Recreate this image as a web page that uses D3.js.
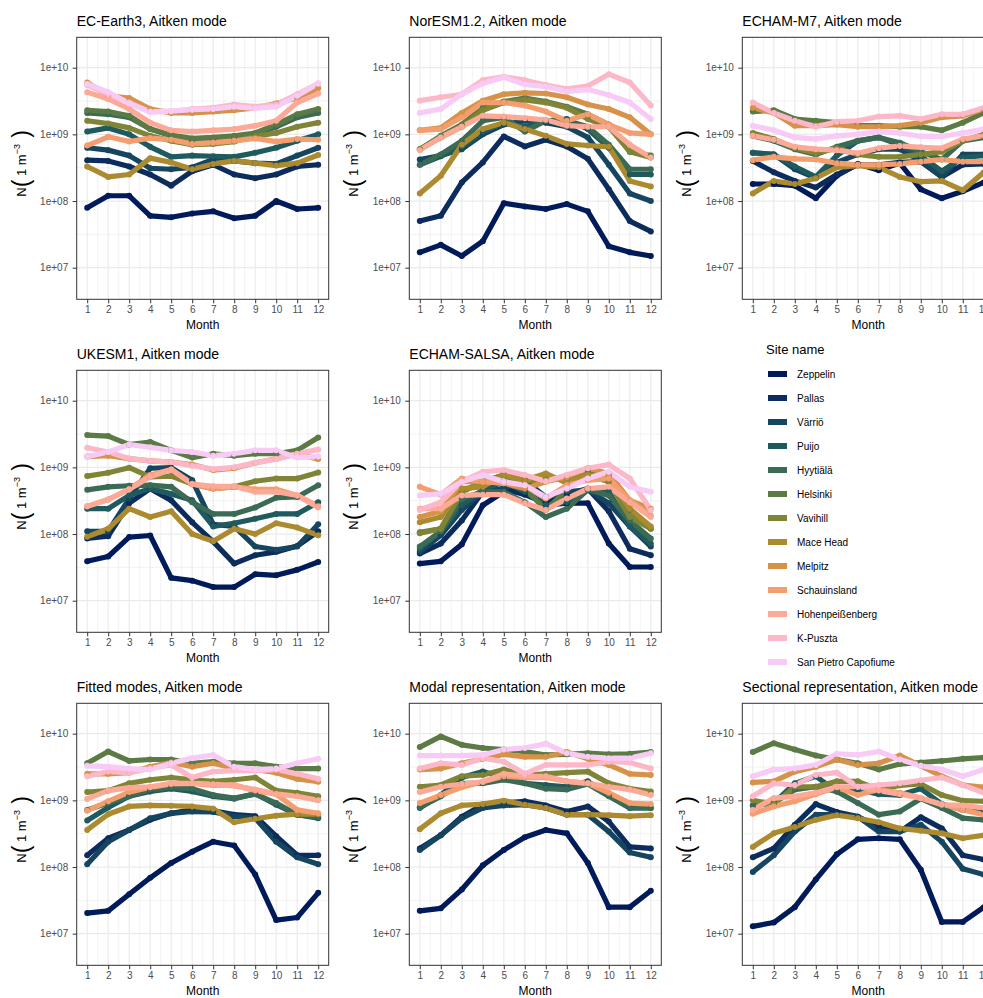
<!DOCTYPE html>
<html>
<head>
<meta charset="utf-8">
<script src="https://cdn.jsdelivr.net/npm/d3@7"></script>
<style>
  body { margin: 0; background: #fff; }
  text { font-family: "Liberation Sans", Arial, sans-serif; }
</style>
</head>
<body>
<svg id="chart" width="983" height="998"></svg>
<script>
const months = [1, 2, 3, 4, 5, 6, 7, 8, 9, 10, 11, 12];
const sites = ["Zeppelin", "Pallas", "Värriö", "Puijo", "Hyytiälä", "Helsinki", "Vavihill",
  "Mace Head", "Melpitz", "Schauinsland", "Hohenpeißenberg", "K-Puszta", "San Pietro Capofiume"];
const siteColors = ["#011a5a", "#0c2c5d", "#15455f", "#1f5a5e", "#3b6b55", "#5b7a45", "#808436",
  "#ac8a2f", "#d7924a", "#f49e6f", "#fca997", "#fcb8c8", "#f8cbf6"];
const yTicks = [1e7, 1e8, 1e9, 1e10];

// rows follow the order of `sites`
const ecEarth3 = [
  [7.9e7, 1.2e8, 1.2e8, 6e7, 5.7e7, 6.5e7, 7e7, 5.5e7, 6e7, 1e8, 7.6e7, 7.9e7],
  [4.1e8, 4e8, 3.3e8, 2.5e8, 1.7e8, 2.8e8, 3.5e8, 2.5e8, 2.2e8, 2.5e8, 3.3e8, 3.5e8],
  [6.3e8, 5.8e8, 4.8e8, 3.1e8, 3e8, 3.2e8, 4.2e8, 4e8, 3.7e8, 3.6e8, 4.8e8, 6.3e8],
  [1.1e9, 1.25e9, 1e9, 6.5e8, 4.6e8, 4.8e8, 4.7e8, 4.6e8, 5.3e8, 6.3e8, 8e8, 1e9],
  [2.1e9, 2e9, 1.8e9, 1.2e9, 9.5e8, 8e8, 8.5e8, 9e8, 9.8e8, 1.3e9, 1.8e9, 2.1e9],
  [2.3e9, 2.2e9, 1.9e9, 1.2e9, 9.8e8, 8.7e8, 9e8, 9.5e8, 1.05e9, 1.4e9, 2e9, 2.4e9],
  [1.6e9, 1.45e9, 1.25e9, 9.5e8, 8e8, 7e8, 7.2e8, 7.8e8, 9.3e8, 1.05e9, 1.3e9, 1.5e9],
  [3.3e8, 2.3e8, 2.5e8, 4.4e8, 3.8e8, 3e8, 3.6e8, 4e8, 3.7e8, 3.4e8, 3.7e8, 4.9e8],
  [6e9, 3.8e9, 3.5e9, 2.4e9, 2.1e9, 2.1e9, 2.2e9, 2.3e9, 2.5e9, 2.9e9, 3.5e9, 4.9e9],
  [6.8e8, 9.2e8, 7.8e8, 8.8e8, 8.3e8, 7.2e8, 7.5e8, 8e8, 8.7e8, 7.8e8, 8.5e8, 8.3e8],
  [4.3e9, 3.4e9, 2.4e9, 1.5e9, 1.15e9, 1.1e9, 1.15e9, 1.2e9, 1.35e9, 1.6e9, 3e9, 4.1e9],
  [5.5e9, 4e9, 3e9, 2.2e9, 2.2e9, 2.4e9, 2.5e9, 2.8e9, 2.6e9, 2.8e9, 4e9, 5.8e9],
  [5.7e9, 4.3e9, 2.9e9, 2.15e9, 2.25e9, 2.35e9, 2.4e9, 2.6e9, 2.45e9, 2.6e9, 3.8e9, 5.8e9]
];
const norEsm = [
  [1.7e7, 2.2e7, 1.5e7, 2.5e7, 9.3e7, 8.3e7, 7.6e7, 9e7, 7e7, 2.1e7, 1.7e7, 1.5e7],
  [5e7, 6e7, 1.9e8, 3.8e8, 9.3e8, 6.6e8, 8.3e8, 6.6e8, 4.3e8, 1.5e8, 5e7, 3.5e7],
  [4.2e8, 4.8e8, 6e8, 1e9, 1.4e9, 1.6e9, 1.5e9, 1.3e9, 9e8, 3.5e8, 1.3e8, 1e8],
  [3.5e8, 4.7e8, 6.5e8, 1.1e9, 1.5e9, 1.3e9, 1.6e9, 1.7e9, 1.2e9, 6.3e8, 2.5e8, 2.5e8],
  [3.5e8, 5e8, 8e8, 1.6e9, 1.8e9, 1.1e9, 1.6e9, 1.6e9, 1.3e9, 7e8, 3e8, 3e8],
  [6e8, 9.5e8, 1.4e9, 2.5e9, 3.1e9, 3.5e9, 3.1e9, 2.6e9, 2e9, 1.4e9, 5.5e8, 4.8e8],
  [6e8, 9e8, 1.3e9, 2.3e9, 3e9, 3.3e9, 3e9, 2.5e9, 1.7e9, 1.3e9, 5.5e8, 4.5e8],
  [1.3e8, 2.4e8, 7e8, 1.2e9, 1.5e9, 1.2e9, 9.5e8, 7.2e8, 6.8e8, 6.5e8, 2e8, 1.65e8],
  [1.15e9, 1.25e9, 2.1e9, 3.2e9, 4e9, 4.2e9, 4.1e9, 3.6e9, 2.8e9, 2.4e9, 1.8e9, 1e9],
  [1.15e9, 1.2e9, 1.8e9, 3e9, 3e9, 2.7e9, 2.2e9, 1.6e9, 2e9, 1.4e9, 1.05e9, 1e9],
  [5.8e8, 9e8, 1.3e9, 1.9e9, 1.85e9, 1.75e9, 1.65e9, 1.35e9, 1.3e9, 1.3e9, 7e8, 4.5e8],
  [3.2e9, 3.6e9, 4e9, 6.5e9, 7.3e9, 6.5e9, 5.5e9, 4.8e9, 5.3e9, 8e9, 6e9, 2.7e9],
  [2.1e9, 2.4e9, 4e9, 5.8e9, 7.2e9, 5.6e9, 5.2e9, 4.4e9, 4.7e9, 3.9e9, 3e9, 1.7e9]
];
const echamM7 = [
  [1.8e8, 1.8e8, 1.7e8, 1.1e8, 2.4e8, 3.6e8, 2.9e8, 3.7e8, 1.5e8, 1.1e8, 1.4e8, 1.9e8],
  [4e8, 2.7e8, 2e8, 1.6e8, 2.5e8, 3.5e8, 3.5e8, 3.8e8, 3.9e8, 2.3e8, 3.5e8, 3.6e8],
  [5.3e8, 5e8, 3e8, 2.2e8, 3.8e8, 5e8, 6e8, 6e8, 4e8, 2.3e8, 5e8, 5e8],
  [5.3e8, 5e8, 3.3e8, 2.3e8, 4.8e8, 8e8, 9e8, 7e8, 4.7e8, 2.8e8, 4.5e8, 4.8e8],
  [9.5e8, 8e8, 6e8, 5e8, 6.5e8, 8e8, 9e8, 7.5e8, 5.5e8, 4.2e8, 8e8, 9e8],
  [2.2e9, 2.3e9, 1.7e9, 1.6e9, 1.5e9, 1.35e9, 1.35e9, 1.3e9, 1.3e9, 1.15e9, 1.5e9, 2.1e9],
  [1.05e9, 8.5e8, 6.2e8, 5.2e8, 6.2e8, 5e8, 4.6e8, 4.6e8, 5e8, 5.5e8, 8e8, 1e9],
  [1.3e8, 2e8, 1.8e8, 2.2e8, 3.2e8, 3.4e8, 3.2e8, 2.3e8, 1.95e8, 2e8, 1.45e8, 2.7e8],
  [2.5e9, 2.1e9, 1.35e9, 1.35e9, 1.4e9, 1.3e9, 1.3e9, 1.35e9, 1.5e9, 1.8e9, 1.9e9, 2.4e9],
  [4.1e8, 4.6e8, 4.3e8, 4.2e8, 3.7e8, 3.5e8, 3.5e8, 3.6e8, 3.9e8, 4.2e8, 3.9e8, 3.9e8],
  [9.5e8, 8.3e8, 6.5e8, 6e8, 5.8e8, 5.2e8, 6.2e8, 6.7e8, 6.4e8, 6.2e8, 8.5e8, 9.5e8],
  [3e9, 2.1e9, 1.6e9, 1.3e9, 1.55e9, 1.6e9, 1.85e9, 1.9e9, 1.7e9, 2e9, 2e9, 2.5e9],
  [1.35e9, 1.15e9, 9e8, 8.5e8, 9.5e8, 1e9, 1.1e9, 1.05e9, 9.3e8, 9.3e8, 1.05e9, 1.2e9]
];
const ukesm1 = [
  [3.9e7, 4.6e7, 9e7, 9.5e7, 2.2e7, 2e7, 1.6e7, 1.6e7, 2.5e7, 2.4e7, 2.9e7, 3.8e7],
  [8.6e7, 9.3e7, 2.9e8, 4.8e8, 3.2e8, 1.5e8, 7.7e7, 3.6e7, 4.8e7, 5.4e7, 6.6e7, 1.1e8],
  [1.1e8, 1.1e8, 3.4e8, 9.7e8, 9.9e8, 6.4e8, 1.4e8, 1.3e8, 6.5e7, 5.8e7, 6.5e7, 1.4e8],
  [2.4e8, 2.4e8, 3.8e8, 4.8e8, 4e8, 3.2e8, 1.3e8, 1.45e8, 1.7e8, 2e8, 2e8, 3e8],
  [4.6e8, 5.1e8, 5.3e8, 5.4e8, 5.1e8, 3e8, 2e8, 2e8, 2.5e8, 3.5e8, 3.6e8, 5.4e8],
  [3.05e9, 2.95e9, 2.2e9, 2.4e9, 1.8e9, 1.4e9, 1.6e9, 1.5e9, 1.6e9, 1.6e9, 1.8e9, 2.8e9],
  [7.4e8, 8.3e8, 9.9e8, 7.2e8, 7.4e8, 5.6e8, 4.8e8, 5.1e8, 6.2e8, 6.8e8, 6.8e8, 8.4e8],
  [9.1e7, 1.2e8, 2.4e8, 1.8e8, 2.2e8, 1e8, 7.8e7, 1.2e8, 1e8, 1.45e8, 1.25e8, 9.6e7],
  [1.45e9, 1.5e9, 1.35e9, 1.25e9, 1.2e9, 1.1e9, 9.1e8, 9.7e8, 1.17e9, 1.35e9, 1.6e9, 1.33e9],
  [2.6e8, 3.3e8, 4.7e8, 7.7e8, 9.3e8, 5.7e8, 4.8e8, 5.1e8, 4.7e8, 4.7e8, 3.8e8, 2.6e8],
  [2.6e8, 3.3e8, 4.7e8, 7.2e8, 9.3e8, 5.6e8, 5.2e8, 5.2e8, 4.3e8, 4.3e8, 3.8e8, 2.5e8],
  [1.97e9, 1.7e9, 1.36e9, 1.25e9, 1.2e9, 1.06e9, 9.4e8, 1e9, 1.17e9, 1.33e9, 1.6e9, 1.86e9],
  [1.45e9, 1.7e9, 2.2e9, 2e9, 1.8e9, 1.7e9, 1.5e9, 1.6e9, 1.8e9, 1.8e9, 1.4e9, 1.45e9]
];
const echamSalsa = [
  [3.6e7, 3.9e7, 7e7, 2.7e8, 4.3e8, 4.3e8, 2.7e8, 2.9e8, 2.9e8, 7.2e7, 3.2e7, 3.2e7],
  [5.1e7, 7.2e7, 1.6e8, 4.3e8, 4.8e8, 3.9e8, 2.9e8, 3.9e8, 4.8e8, 2.2e8, 6e7, 4.8e7],
  [5.4e7, 9.6e7, 2.3e8, 4.3e8, 4.8e8, 6.4e8, 3.6e8, 4.3e8, 4.6e8, 2.9e8, 1.3e8, 6.5e7],
  [6e7, 1.1e8, 2.7e8, 4.6e8, 6.1e8, 4.3e8, 2.7e8, 3e8, 4.7e8, 4.3e8, 1.3e8, 7.2e7],
  [6.5e7, 1.1e8, 3.4e8, 4.3e8, 4.3e8, 3e8, 1.8e8, 2.4e8, 4.6e8, 3.8e8, 1.6e8, 8.6e7],
  [1.06e8, 1.2e8, 4.3e8, 6.1e8, 7.7e8, 4.8e8, 2.3e8, 4.6e8, 8.8e8, 7.5e8, 2.3e8, 1.2e8],
  [1.03e8, 1.2e8, 4.3e8, 6.1e8, 7.7e8, 6.1e8, 6.7e8, 6.8e8, 7.7e8, 6.1e8, 1.8e8, 1.2e8],
  [1.5e8, 1.8e8, 4.8e8, 5.1e8, 7.7e8, 6.4e8, 8.1e8, 5.8e8, 7.7e8, 7e8, 2.4e8, 1.3e8],
  [1.8e8, 2.2e8, 6.1e8, 6.1e8, 5.8e8, 4.8e8, 6.1e8, 7.2e8, 9.7e8, 8.1e8, 3.2e8, 2.4e8],
  [5.1e8, 3.9e8, 6.8e8, 6.1e8, 5.8e8, 5.4e8, 3.4e8, 5.4e8, 6.4e8, 6.8e8, 3.2e8, 1.9e8],
  [2.4e8, 2.4e8, 3.8e8, 3.9e8, 3.9e8, 2.9e8, 2.3e8, 3.4e8, 4.8e8, 5.1e8, 3e8, 1.8e8],
  [2.3e8, 3e8, 6.1e8, 8.6e8, 9.1e8, 7.7e8, 6.2e8, 7.7e8, 9.7e8, 1.1e9, 6.8e8, 2.3e8],
  [3.8e8, 4e8, 6.1e8, 7.7e8, 6.1e8, 5.4e8, 3.6e8, 4.8e8, 6.8e8, 8.6e8, 5.1e8, 4.3e8]
];
const fittedModes = [
  [2.04e7, 2.2e7, 3.9e7, 6.9e7, 1.15e8, 1.7e8, 2.4e8, 2.1e8, 7.7e7, 1.6e7, 1.75e7, 4.1e7],
  [1.5e8, 2.7e8, 3.6e8, 5.1e8, 6.4e8, 7.2e8, 7e8, 6.1e8, 5.8e8, 2.9e8, 1.5e8, 1.5e8],
  [1.1e8, 2.4e8, 3.6e8, 5.4e8, 6.4e8, 6.8e8, 6.7e8, 5.8e8, 5.4e8, 2.4e8, 1.4e8, 1.1e8],
  [5e8, 7.8e8, 1.15e9, 1.36e9, 1.5e9, 1.36e9, 1.15e9, 1.06e9, 1.26e9, 8.6e8, 6.1e8, 5.4e8],
  [7.2e8, 9.1e8, 1.15e9, 1.45e9, 1.57e9, 1.5e9, 1.2e9, 1.08e9, 1.24e9, 9.1e8, 6.1e8, 5.6e8],
  [3.6e9, 5.4e9, 3.9e9, 4.1e9, 4.1e9, 3.6e9, 3.8e9, 3.6e9, 3.6e9, 3.2e9, 3e9, 3e9],
  [1.33e9, 1.4e9, 1.8e9, 2.04e9, 2.2e9, 2.04e9, 1.93e9, 2.04e9, 2.2e9, 1.4e9, 1.3e9, 1.15e9],
  [3.6e8, 6.2e8, 8.1e8, 8.4e8, 8.3e8, 8.1e8, 7.5e8, 4.7e8, 5.3e8, 5.9e8, 6.2e8, 6.2e8],
  [2.5e9, 2.5e9, 2.6e9, 3.2e9, 3.7e9, 3.2e9, 3.6e9, 3e9, 2.9e9, 2.6e9, 2.1e9, 1.9e9],
  [7e8, 9.7e8, 1.33e9, 1.57e9, 1.76e9, 1.8e9, 1.68e9, 1.7e9, 1.4e9, 1.24e9, 7.2e8, 6.4e8],
  [1.05e9, 1.4e9, 1.55e9, 1.6e9, 1.8e9, 1.8e9, 1.75e9, 1.65e9, 1.45e9, 1.25e9, 1.15e9, 1e9],
  [2.3e9, 2.7e9, 2.6e9, 3e9, 3.4e9, 2.2e9, 2.7e9, 2.8e9, 2.8e9, 2.9e9, 2.5e9, 2.1e9],
  [3.3e9, 3.2e9, 3e9, 2.9e9, 3.6e9, 4.3e9, 4.8e9, 3.2e9, 2.9e9, 3e9, 3.6e9, 4.2e9]
];
const modalRepr = [
  [2.2e7, 2.4e7, 4.6e7, 1.06e8, 1.8e8, 2.8e8, 3.6e8, 3.2e8, 1.15e8, 2.5e7, 2.5e7, 4.4e7],
  [1.9e8, 3e8, 5.7e8, 8.6e8, 9.1e8, 9.7e8, 8.4e8, 6.8e8, 8.1e8, 4.8e8, 2e8, 1.9e8],
  [1.8e8, 3e8, 5.4e8, 7.7e8, 8.4e8, 8.6e8, 7.7e8, 6.1e8, 6.1e8, 3.4e8, 1.65e8, 1.4e8],
  [7.7e8, 1.2e9, 2.2e9, 2.7e9, 2.2e9, 1.8e9, 1.7e9, 1.6e9, 1.93e9, 1.2e9, 7.7e8, 7.7e8],
  [7.9e8, 1.15e9, 1.8e9, 1.8e9, 2.04e9, 1.8e9, 1.5e9, 1.45e9, 1.76e9, 1.15e9, 7.7e8, 7.7e8],
  [6.3e9, 9.1e9, 6.8e9, 6.1e9, 5.8e9, 5.4e9, 4.8e9, 4.9e9, 5.1e9, 4.9e9, 5e9, 5.3e9],
  [1.6e9, 1.7e9, 2.3e9, 2.4e9, 2.9e9, 2.4e9, 2.5e9, 2.6e9, 2.7e9, 1.8e9, 1.5e9, 1.36e9],
  [3.7e8, 6.4e8, 8.4e8, 8.8e8, 9.9e8, 8.6e8, 7.7e8, 6.1e8, 6.1e8, 6e8, 5.8e8, 6e8],
  [2.9e9, 3e9, 3.6e9, 4.2e9, 4.9e9, 4.5e9, 4.5e9, 5.3e9, 4.2e9, 3.4e9, 2.5e9, 2.4e9],
  [9.1e8, 1.2e9, 1.57e9, 1.9e9, 2.3e9, 2.2e9, 2.2e9, 1.93e9, 1.8e9, 1.3e9, 9.1e8, 8.8e8],
  [1.33e9, 1.6e9, 1.76e9, 1.9e9, 2.5e9, 2.3e9, 2.3e9, 1.93e9, 1.8e9, 1.6e9, 1.45e9, 1.2e9],
  [3e9, 3.6e9, 3.4e9, 4.3e9, 3.8e9, 2.5e9, 3.4e9, 3.4e9, 3.4e9, 3.8e9, 3.7e9, 3e9],
  [4.7e9, 4.7e9, 4.7e9, 4.8e9, 5.8e9, 6.1e9, 7.1e9, 5.1e9, 4.5e9, 4.3e9, 4.3e9, 5.1e9]
];
const sectionalRepr = [
  [1.29e7, 1.47e7, 2.5e7, 6.5e7, 1.55e8, 2.6e8, 2.7e8, 2.6e8, 9.1e7, 1.5e7, 1.5e7, 2.5e7],
  [1.4e8, 1.9e8, 4.3e8, 8.8e8, 6.7e8, 5.7e8, 4e8, 3.4e8, 5.6e8, 3.8e8, 1.5e8, 1.3e8],
  [8.4e7, 1.5e8, 3.4e8, 6.1e8, 6.1e8, 5.7e8, 3.4e8, 3.4e8, 4.3e8, 2.4e8, 9.4e7, 7.7e7],
  [8.4e8, 9.1e8, 1.8e9, 2.3e9, 1.36e9, 1.45e9, 1.24e9, 1.2e9, 1.5e9, 8.8e8, 7.2e8, 7.2e8],
  [8.4e8, 9.1e8, 1.45e9, 1.6e9, 1.36e9, 9.1e8, 6.1e8, 6.8e8, 1.06e9, 7.7e8, 5.4e8, 5.1e8],
  [5.3e9, 7.2e9, 5.8e9, 4.7e9, 4.1e9, 3.6e9, 2.9e9, 3.5e9, 3.7e9, 3.9e9, 4.2e9, 4.4e9],
  [1e9, 8.8e8, 1.6e9, 1.6e9, 1.93e9, 1.93e9, 1.45e9, 1.68e9, 1.76e9, 1.2e9, 9.9e8, 9.7e8],
  [2e8, 3.2e8, 4e8, 5.1e8, 6e8, 5.4e8, 4.7e8, 3.8e8, 3.5e8, 3.2e8, 2.7e8, 3e8],
  [1.86e9, 1.93e9, 2.7e9, 3.2e9, 4.1e9, 3.4e9, 3.6e9, 4.7e9, 3.3e9, 2.3e9, 1.7e9, 1.57e9],
  [6.3e8, 8.1e8, 9.7e8, 1.24e9, 1.57e9, 1.2e9, 1.45e9, 1.3e9, 1.08e9, 8.8e8, 7.2e8, 6.1e8],
  [7.2e8, 1.08e9, 1.15e9, 1.3e9, 1.6e9, 1.6e9, 1.4e9, 1.24e9, 1.08e9, 8.6e8, 8.4e8, 7.7e8],
  [1.15e9, 1.8e9, 1.7e9, 2.4e9, 2.6e9, 1.6e9, 1.7e9, 1.8e9, 2e9, 2.2e9, 1.7e9, 1.3e9],
  [2.3e9, 2.9e9, 3e9, 3.4e9, 5e9, 4.8e9, 5.4e9, 4.1e9, 3.3e9, 2.9e9, 2.3e9, 2.9e9]
];

const panels = [
  { title: "EC-Earth3, Aitken mode", values: ecEarth3, slot: 0 },
  { title: "NorESM1.2, Aitken mode", values: norEsm, slot: 1 },
  { title: "ECHAM-M7, Aitken mode", values: echamM7, slot: 2 },
  { title: "UKESM1, Aitken mode", values: ukesm1, slot: 3 },
  { title: "ECHAM-SALSA, Aitken mode", values: echamSalsa, slot: 4 },
  { title: "Fitted modes, Aitken mode", values: fittedModes, slot: 6 },
  { title: "Modal representation, Aitken mode", values: modalRepr, slot: 7 },
  { title: "Sectional representation, Aitken mode", values: sectionalRepr, slot: 8 }
];

// layout
const colLeft = [76.7, 409.3, 742.3];
const rowTop = [37.3, 370.3, 703.3];
const plotWidth = 252;
const plotHeight = 262;

const svg = d3.select("#chart");
svg.append("rect").attr("width", 983).attr("height", 998).attr("fill", "white");

const x = d3.scaleLinear([0.5, 12.5], [0, plotWidth]);
const y = d3.scaleLog([Math.pow(10, 6.526), Math.pow(10, 10.456)], [plotHeight, 0]);
const yMinor = [7.5, 8.5, 9.5].map((e) => Math.pow(10, e));
const xMinor = months.slice(0, 11).map((m) => m + 0.5);

const line = d3.line()
  .x((d, i) => x(months[i]))
  .y((d) => y(d));

panels.forEach((panel, p) => {
  const left = colLeft[panel.slot % 3];
  const top = rowTop[Math.floor(panel.slot / 3)];

  const g = svg.append("g").attr("transform", `translate(${left}, ${top})`);

  g.append("rect")
    .attr("width", plotWidth)
    .attr("height", plotHeight)
    .attr("fill", "white");

  // grid
  g.append("g").selectAll("line")
    .data(yMinor)
    .join("line")
    .attr("x1", 0).attr("x2", plotWidth)
    .attr("y1", (d) => y(d)).attr("y2", (d) => y(d))
    .attr("stroke", "#ebebeb").attr("stroke-width", 0.6);
  g.append("g").selectAll("line")
    .data(xMinor)
    .join("line")
    .attr("y1", 0).attr("y2", plotHeight)
    .attr("x1", (d) => x(d)).attr("x2", (d) => x(d))
    .attr("stroke", "#ebebeb").attr("stroke-width", 0.6);
  g.append("g").selectAll("line")
    .data(yTicks)
    .join("line")
    .attr("x1", 0).attr("x2", plotWidth)
    .attr("y1", (d) => y(d)).attr("y2", (d) => y(d))
    .attr("stroke", "#ebebeb").attr("stroke-width", 1.2);
  g.append("g").selectAll("line")
    .data(months)
    .join("line")
    .attr("y1", 0).attr("y2", plotHeight)
    .attr("x1", (d) => x(d)).attr("x2", (d) => x(d))
    .attr("stroke", "#ebebeb").attr("stroke-width", 1.2);

  const clipId = "clip" + p;
  g.append("clipPath").attr("id", clipId)
    .append("rect").attr("width", plotWidth).attr("height", plotHeight);

  const marks = g.append("g").attr("clip-path", `url(#${clipId})`);

  marks.append("g").selectAll("path")
    .data(panel.values)
    .join("path")
    .attr("d", (row) => line(row))
    .attr("fill", "none")
    .attr("stroke", (row, i) => siteColors[i])
    .attr("stroke-width", 5.2)
    .attr("stroke-linejoin", "round");

  const pts = panel.values.flatMap((row, i) =>
    row.map((v, m) => ({ site: i, month: months[m], value: v })));
  marks.append("g").selectAll("circle")
    .data(pts)
    .join("circle")
    .attr("cx", (d) => x(d.month))
    .attr("cy", (d) => y(d.value))
    .attr("r", 3)
    .attr("fill", (d) => siteColors[d.site]);

  g.append("rect")
    .attr("width", plotWidth)
    .attr("height", plotHeight)
    .attr("fill", "none")
    .attr("stroke", "#333333")
    .attr("stroke-width", 1);

  // axes
  const yAxis = d3.axisLeft(y)
    .tickValues(yTicks)
    .tickSize(4)
    .tickPadding(4.5)
    .tickFormat((d) => "1e+" + String(Math.round(Math.log10(d))).padStart(2, "0"));
  const ya = g.append("g").call(yAxis);
  ya.select(".domain").remove();
  ya.selectAll("line").attr("stroke", "#333333");
  ya.selectAll("text").attr("fill", "#4d4d4d").attr("font-size", 10)
    .attr("font-family", "Liberation Sans, Arial, sans-serif");

  const xAxis = d3.axisBottom(x)
    .tickValues(months)
    .tickSize(4)
    .tickPadding(3);
  const xa = g.append("g").attr("transform", `translate(0, ${plotHeight})`).call(xAxis);
  xa.select(".domain").remove();
  xa.selectAll("line").attr("stroke", "#333333");
  xa.selectAll("text").attr("fill", "#4d4d4d").attr("font-size", 10)
    .attr("font-family", "Liberation Sans, Arial, sans-serif");

  g.append("text")
    .attr("x", 0)
    .attr("y", -11)
    .attr("font-size", 14)
    .attr("fill", "black")
    .text(panel.title);

  g.append("text")
    .attr("x", plotWidth / 2)
    .attr("y", plotHeight + 30)
    .attr("text-anchor", "middle")
    .attr("font-size", 12)
    .attr("fill", "black")
    .text("Month");

  const yl = g.append("text")
    .attr("transform", `translate(-51, ${plotHeight / 2 - 5}) rotate(-90)`)
    .attr("text-anchor", "middle")
    .attr("font-size", 13)
    .attr("fill", "black");
  yl.append("tspan").text("N");
  yl.append("tspan").attr("font-size", 23).attr("font-weight", 300).attr("dy", 3).text("(");
  yl.append("tspan").attr("font-size", 13).attr("dy", -3).text(" 1  m");
  yl.append("tspan").attr("font-size", 9).attr("dy", -6).text("−3");
  yl.append("tspan").attr("font-size", 23).attr("font-weight", 300).attr("dy", 9).text(" )");
});

// legend
const legend = svg.append("g").attr("transform", "translate(766, 349)");
legend.append("text")
  .attr("x", 0)
  .attr("y", 5)
  .attr("font-size", 13)
  .attr("fill", "black")
  .text("Site name");

const items = legend.append("g").selectAll("g")
  .data(sites)
  .join("g")
  .attr("transform", (d, i) => `translate(0, ${25 + i * 24})`);
items.append("rect")
  .attr("x", 2)
  .attr("y", -3)
  .attr("width", 19)
  .attr("height", 6)
  .attr("fill", (d, i) => siteColors[i]);
items.append("text")
  .attr("x", 31)
  .attr("y", 3.6)
  .attr("font-size", 10)
  .attr("fill", "black")
  .text((d) => d);
</script>
</body>
</html>
